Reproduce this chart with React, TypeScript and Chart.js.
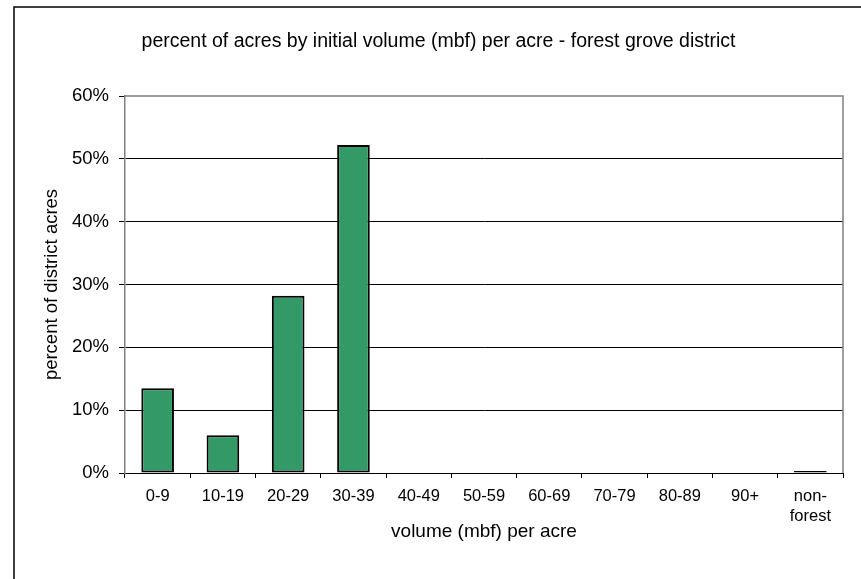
import { useEffect, useRef } from 'react';
import { Chart, registerables } from 'chart.js';

Chart.register(...registerables);

const chartTitle = 'percent of acres by initial volume (mbf) per acre - forest grove district';
const xAxisTitle = 'volume (mbf) per acre';
const yAxisTitle = 'percent of district acres';
const categories: (string | string[])[] = ['0-9', '10-19', '20-29', '30-39', '40-49', '50-59', '60-69', '70-79', '80-89', '90+', ['non-', 'forest']];
const percentAcres = [13.5, 6.0, 28.2, 52.2, 0, 0, 0, 0, 0, 0, 0.3];
const yMin = 0;
const yMax = 60;
const yStep = 10;

const FONT = "'Liberation Sans', Arial, Helvetica, sans-serif";

const framePlugin = {
  id: 'frame',
  beforeDatasetsDraw(chart: any) {
    const { ctx, chartArea } = chart;
    ctx.save();
    ctx.strokeStyle = '#808080';
    ctx.lineWidth = 1.5;
    ctx.beginPath();
    ctx.moveTo(chartArea.left, chartArea.top);
    ctx.lineTo(chartArea.right, chartArea.top);
    ctx.lineTo(chartArea.right, chartArea.bottom);
    ctx.stroke();
    ctx.restore();
  },
  afterDraw(chart: any) {
    const { ctx, width, height } = chart;
    ctx.save();
    ctx.strokeStyle = '#000';
    ctx.lineWidth = 1.5;
    ctx.beginPath();
    ctx.moveTo(14, height + 5);
    ctx.lineTo(14, 7);
    ctx.lineTo(width + 5, 7);
    ctx.stroke();
    ctx.fillStyle = '#000';
    ctx.font = `19.5px ${FONT}`;
    ctx.textAlign = 'center';
    ctx.textBaseline = 'middle';
    ctx.fillText(chartTitle, 438.5, 42);
    ctx.restore();
  },
};

export default function App() {
  const ref = useRef<HTMLCanvasElement>(null);
  useEffect(() => {
    if (!ref.current) return;
    const chart = new Chart(ref.current, {
      type: 'bar',
      data: {
        labels: categories as any,
        datasets: [
          {
            data: percentAcres,
            backgroundColor: '#339966',
            borderColor: '#000',
            borderWidth: 2,
            borderSkipped: false,
            categoryPercentage: 1,
            barPercentage: 0.5,
          },
        ],
      },
      options: {
        responsive: false,
        animation: false,
        layout: { padding: { top: 96, left: 14, right: 18, bottom: 0 } },
        plugins: { legend: { display: false }, title: { display: false }, tooltip: { enabled: false } },
        scales: {
          x: {
            offset: true,
            grid: { offset: true, drawOnChartArea: false, drawTicks: true, tickLength: 5, color: '#000', tickColor: '#000' },
            border: { color: '#000', width: 1 },
            ticks: { color: '#000', font: { family: FONT, size: 16.5 }, padding: 9, maxRotation: 0, autoSkip: false },
            title: { display: true, text: xAxisTitle, color: '#000', font: { family: FONT, size: 19 }, padding: { top: 4, bottom: 35.6 } },
            afterFit(scale: any) {
              scale.height = 106;
            },
          },
          y: {
            min: yMin,
            max: yMax,
            ticks: { stepSize: yStep, color: '#000', font: { family: FONT, size: 18.5 }, padding: 10, callback: (v: any) => v + '%' },
            grid: {
              color: (c: any) => (c.tick && c.tick.value === yMax ? 'rgba(0,0,0,0)' : '#000'),
              tickColor: '#000',
              tickLength: 6,
              lineWidth: 1,
            },
            border: { color: '#808080', width: 1.5 },
            title: { display: true, text: yAxisTitle, color: '#000', font: { family: FONT, size: 18.5 }, padding: { top: 26.9, bottom: 0 } },
            afterFit(scale: any) {
              scale.width = 111;
            },
          },
        },
      },
      plugins: [framePlugin],
    });
    return () => chart.destroy();
  }, []);
  return (
    <div style={{ position: 'fixed', left: 0, top: 0, width: 861, height: 579, background: '#fff' }}>
      <canvas ref={ref} width={861} height={579} style={{ display: 'block' }} />
    </div>
  );
}
